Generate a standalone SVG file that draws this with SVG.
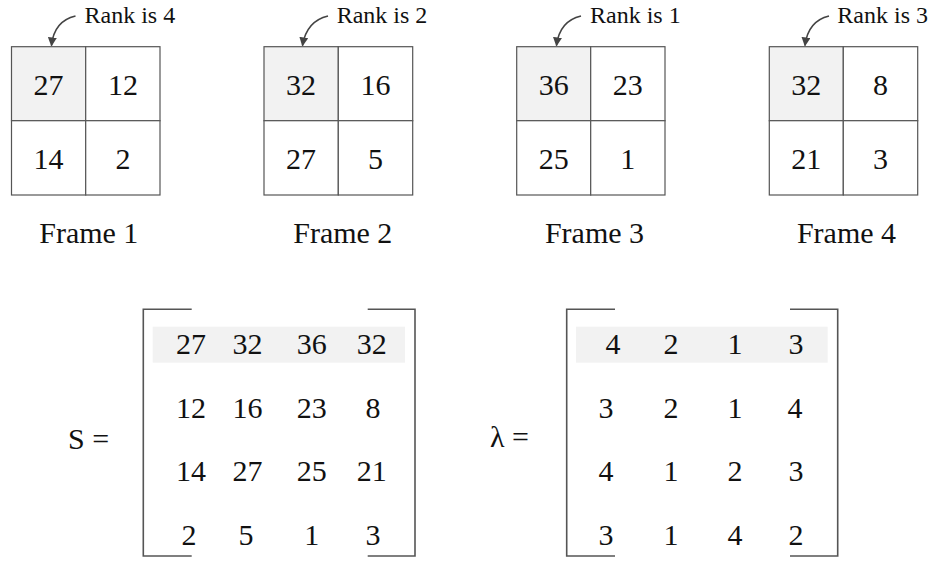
<svg xmlns="http://www.w3.org/2000/svg" width="938" height="561" viewBox="0 0 938 561" font-family="'Liberation Serif', 'Times New Roman', Times, 'DejaVu Serif', serif">
<style>
text{font-family:'Liberation Serif','Times New Roman',Times,'DejaVu Serif',serif;fill:#111}
.num{font-size:30px;text-anchor:middle}
.lbl{font-size:30px;text-anchor:middle}
.rank{font-size:24px}
.cell{fill:#fff;stroke:#555;stroke-width:1.2}
.hl{fill:#f2f2f2;stroke:#555;stroke-width:1.2}
.band{fill:#f2f2f2}
.br{fill:none;stroke:#555;stroke-width:1.6}
.arr{fill:none;stroke:#444;stroke-width:1.6;marker-end:url(#ah)}
</style>
<defs>
<marker id="ah" viewBox="0 0 10 10" refX="9" refY="5" markerWidth="9" markerHeight="9" markerUnits="userSpaceOnUse" orient="auto">
<path d="M0,0 L10,5 L0,10 Z" fill="#444"/>
</marker>
</defs>
<rect width="938" height="561" fill="#fff"/>

<g id="frame1">
<rect class="hl" x="11.5" y="46.7" width="74.2" height="74"/>
<rect class="cell" x="85.7" y="46.7" width="74.3" height="74"/>
<rect class="cell" x="11.5" y="120.7" width="74.2" height="74.3"/>
<rect class="cell" x="85.7" y="120.7" width="74.3" height="74.3"/>
<text class="num" x="48.6" y="95">27</text>
<text class="num" x="122.9" y="95">12</text>
<text class="num" x="48.6" y="169">14</text>
<text class="num" x="122.9" y="169">2</text>
<text class="rank" x="84.5" y="23">Rank is 4</text>
<text class="lbl" x="88.8" y="243.3">Frame 1</text>
</g>

<g id="frame2">
<rect class="hl" x="264" y="46.7" width="74.3" height="74"/>
<rect class="cell" x="338.3" y="46.7" width="74.4" height="74"/>
<rect class="cell" x="264" y="120.7" width="74.3" height="74.3"/>
<rect class="cell" x="338.3" y="120.7" width="74.4" height="74.3"/>
<text class="num" x="301.1" y="95">32</text>
<text class="num" x="375.5" y="95">16</text>
<text class="num" x="301.1" y="169">27</text>
<text class="num" x="375.5" y="169">5</text>
<text class="rank" x="336.7" y="23">Rank is 2</text>
<text class="lbl" x="342.8" y="243.3">Frame 2</text>
</g>

<g id="frame3">
<rect class="hl" x="516.7" y="46.7" width="74" height="74"/>
<rect class="cell" x="590.7" y="46.7" width="74.3" height="74"/>
<rect class="cell" x="516.7" y="120.7" width="74" height="74.3"/>
<rect class="cell" x="590.7" y="120.7" width="74.3" height="74.3"/>
<text class="num" x="553.7" y="95">36</text>
<text class="num" x="627.8" y="95">23</text>
<text class="num" x="553.7" y="169">25</text>
<text class="num" x="627.8" y="169">1</text>
<text class="rank" x="590" y="23">Rank is 1</text>
<text class="lbl" x="594.5" y="243.3">Frame 3</text>
</g>

<g id="frame4">
<rect class="hl" x="769.3" y="46.7" width="74" height="74"/>
<rect class="cell" x="843.3" y="46.7" width="74.4" height="74"/>
<rect class="cell" x="769.3" y="120.7" width="74" height="74.3"/>
<rect class="cell" x="843.3" y="120.7" width="74.4" height="74.3"/>
<text class="num" x="806.3" y="95">32</text>
<text class="num" x="880.5" y="95">8</text>
<text class="num" x="806.3" y="169">21</text>
<text class="num" x="880.5" y="169">3</text>
<text class="rank" x="837.3" y="23">Rank is 3</text>
<text class="lbl" x="846.5" y="243.3">Frame 4</text>
</g>

<g id="connectors">
<path class="arr" d="M75.5,16 Q54,21 51.5,45.5"/>
<path class="arr" d="M328,16 Q306.5,21 302.5,45.5"/>
<path class="arr" d="M581,16 Q559.5,21 556.5,45.5"/>
<path class="arr" d="M829,16 Q808,21 805,45.5"/>
</g>

<g id="matrixS">
<rect class="band" x="152.7" y="326.7" width="252.3" height="36"/>
<path class="br" d="M191.7,309.3 H143.3 V556 H191.7"/>
<path class="br" d="M367.7,309.3 H415 V556 H367.7"/>
<text x="68" y="449" style="font-size:30px">S =</text>
<text class="num" x="191" y="354">27</text>
<text class="num" x="247.5" y="354">32</text>
<text class="num" x="311.7" y="354">36</text>
<text class="num" x="371.7" y="354">32</text>
<text class="num" x="191" y="417.5">12</text>
<text class="num" x="247.5" y="417.5">16</text>
<text class="num" x="311.7" y="417.5">23</text>
<text class="num" x="373" y="417.5">8</text>
<text class="num" x="191" y="481">14</text>
<text class="num" x="247.5" y="481">27</text>
<text class="num" x="311.7" y="481">25</text>
<text class="num" x="371.7" y="481">21</text>
<text class="num" x="189" y="545">2</text>
<text class="num" x="246" y="545">5</text>
<text class="num" x="311.7" y="545">1</text>
<text class="num" x="373" y="545">3</text>
</g>

<g id="matrixL">
<rect class="band" x="576" y="326.7" width="251.7" height="36"/>
<path class="br" d="M615,309.3 H566.7 V556 H615"/>
<path class="br" d="M790,309.3 H837.7 V556 H790"/>
<text x="490" y="447" style="font-size:30px">λ =</text>
<text class="num" x="613" y="354">4</text>
<text class="num" x="671" y="354">2</text>
<text class="num" x="735" y="354">1</text>
<text class="num" x="796" y="354">3</text>
<text class="num" x="606" y="417.5">3</text>
<text class="num" x="671" y="417.5">2</text>
<text class="num" x="735" y="417.5">1</text>
<text class="num" x="795" y="417.5">4</text>
<text class="num" x="606" y="481">4</text>
<text class="num" x="671" y="481">1</text>
<text class="num" x="735" y="481">2</text>
<text class="num" x="796" y="481">3</text>
<text class="num" x="606" y="545">3</text>
<text class="num" x="671" y="545">1</text>
<text class="num" x="735" y="545">4</text>
<text class="num" x="796" y="545">2</text>
</g>
</svg>
